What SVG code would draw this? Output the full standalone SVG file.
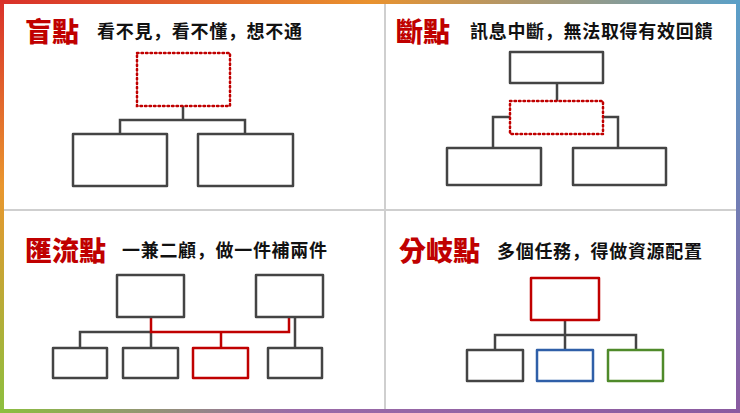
<svg xmlns="http://www.w3.org/2000/svg" width="740" height="413" viewBox="0 0 740 413">
<defs>
<linearGradient id="gTop" x1="0" y1="0" x2="1" y2="0"><stop offset="0" stop-color="#d9302a"/><stop offset="0.5" stop-color="#e9922e"/><stop offset="1" stop-color="#5aa0c8"/></linearGradient>
<linearGradient id="gLeft" x1="0" y1="0" x2="0" y2="1"><stop offset="0" stop-color="#d9302a"/><stop offset="0.45" stop-color="#e9962e"/><stop offset="1" stop-color="#8cbf3f"/></linearGradient>
<linearGradient id="gBot" x1="0" y1="0" x2="1" y2="0"><stop offset="0" stop-color="#8cbf3f"/><stop offset="0.4" stop-color="#9a6aa8"/><stop offset="1" stop-color="#8a5aa0"/></linearGradient>
<linearGradient id="gRight" x1="0" y1="0" x2="0" y2="1"><stop offset="0" stop-color="#5aa0c8"/><stop offset="1" stop-color="#8a5aa0"/></linearGradient>
</defs>
<style>
.t{font-family:"Noto Sans CJK TC","Noto Sans CJK SC",sans-serif;font-weight:900;fill:#c00000;font-size:27px}
.s{font-family:"Noto Sans CJK SC","Noto Sans CJK TC",sans-serif;font-weight:700;fill:#111;font-size:18px;letter-spacing:0.7px}
.b{fill:#fff;stroke:#444;stroke-width:2.5;stroke-linejoin:round}
.d{fill:#fff;stroke:#c00000;stroke-width:2.5;stroke-dasharray:1.5 3;stroke-linecap:round}
.l{fill:none;stroke:#444;stroke-width:2.5}
.r{fill:none;stroke:#c00000;stroke-width:2.5}
</style>
<rect width="740" height="413" fill="#fff"/>
<rect x="0" y="0" width="740" height="4" fill="url(#gTop)"/>
<rect x="0" y="0" width="4" height="413" fill="url(#gLeft)"/>
<rect x="0" y="409" width="740" height="4" fill="url(#gBot)"/>
<rect x="736" y="0" width="4" height="413" fill="url(#gRight)"/>
<g id="dividers" stroke="#cfcfcf" stroke-width="2"><line x1="385" y1="4" x2="385" y2="409"/><line x1="4" y1="210" x2="736" y2="210"/></g>

<g id="connectors">
<path class="l" d="M183 106V120M120 134V120H245V134"/>
<path class="l" d="M557 83V101M510 117H493V148M603 117H618V148"/>
<path class="l" d="M80 348V332H151V348M295 317V348"/>
<path class="r" d="M151 317V332H289V317M221 332V348"/>
<path class="l" d="M565 320V335M495 350V335H636V350M565 335V350"/>
</g>

<g id="q1">
<text class="t" x="25" y="42">盲點</text>
<text class="s" x="97" y="38">看不見，看不懂，想不通</text>
<rect id="q1-top" class="d" x="137" y="53" width="93" height="53"/>
<rect id="q1-left" class="b" x="73" y="134" width="94" height="52"/>
<rect id="q1-right" class="b" x="198" y="134" width="95" height="52"/>
</g>
<g id="q2">
<text class="t" x="396" y="42">斷點</text>
<text class="s" x="470" y="38">訊息中斷，無法取得有效回饋</text>
<rect id="q2-top" class="b" x="510" y="52" width="93" height="31"/>
<rect id="q2-mid" class="d" x="510" y="101" width="93" height="33"/>
<rect id="q2-left" class="b" x="447" y="148" width="94" height="37"/>
<rect id="q2-right" class="b" x="573" y="148" width="93" height="37"/>
</g>
<g id="q3">
<text class="t" x="25" y="261">匯流點</text>
<text class="s" x="122" y="257">一兼二顧，做一件補兩件</text>
<rect id="q3-top1" class="b" x="117" y="275" width="67" height="42"/>
<rect id="q3-top2" class="b" x="256" y="275" width="67" height="42"/>
<rect id="q3-c1" class="b" x="53" y="348" width="54" height="30"/>
<rect id="q3-c2" class="b" x="123" y="348" width="55" height="30"/>
<rect id="q3-c3" class="b" x="193" y="348" width="55" height="30" style="stroke:#c00000"/>
<rect id="q3-c4" class="b" x="268" y="348" width="54" height="30"/>
</g>
<g id="q4">
<text class="t" x="399" y="261">分岐點</text>
<text class="s" x="497" y="258">多個任務，得做資源配置</text>
<rect id="q4-top" class="b" x="531" y="278" width="68" height="42" style="stroke:#c00000"/>
<rect id="q4-c1" class="b" x="467" y="350" width="56" height="31"/>
<rect id="q4-c2" class="b" x="537" y="350" width="56" height="31" style="stroke:#2f5fa8"/>
<rect id="q4-c3" class="b" x="608" y="350" width="55" height="31" style="stroke:#4f8a2a"/>
</g>
</svg>
